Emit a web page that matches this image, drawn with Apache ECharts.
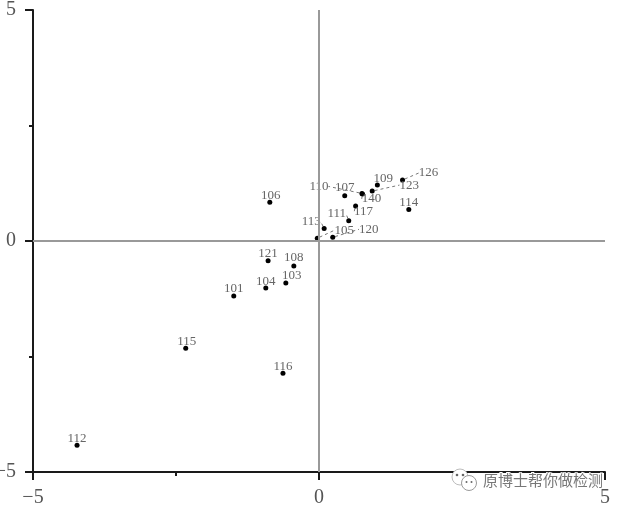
<!DOCTYPE html>
<html><head><meta charset="utf-8">
<style>html,body{margin:0;padding:0;background:#fff}#c{width:622px;height:507px}</style>
<script src="https://cdn.jsdelivr.net/npm/echarts@6/dist/echarts.min.js"></script>
</head><body><div id="c"></div>
<script>
const sampleNames = ['106','121','108','103','104','101','115','116','112','107','110','140','123','109','126','114','117','111','113','105','120'];
const xValues = [-0.86,-0.89,-0.44,-0.58,-0.93,-1.49,-2.33,-0.63,-4.23,0.45,0.75,0.76,0.93,1.02,1.46,1.57,0.64,0.52,0.09,-0.03,0.24];
const yValues = [0.84,-0.43,-0.54,-0.91,-1.02,-1.19,-2.32,-2.86,-4.42,0.98,1.03,1.02,1.08,1.21,1.32,0.68,0.76,0.44,0.27,0.06,0.08];
const xTickLabels = {'-5':'\u22125','0':'0','5':'5'};
const yTickLabels = {'-5':'\u22125','0':'0','5':'5'};

// label placement, pixels from each point (layout only)
const labelShift = {
  '106':[1,-7],'121':[0,-7],'108':[0,-8],'103':[6,-7],'104':[0,-7],'101':[0,-7],
  '115':[1,-7],'116':[0,-7],'112':[0,-7],'107':[0,-8],'110':[-43,-7],'140':[9,5],
  '123':[37,-6],'109':[6,-7],'126':[26,-7],'114':[0,-7],'117':[8,6],'111':[-12,-7],
  '113':[-13,-7],'105':[27,-8],'120':[36,-8]
};
const withLeader = ['110','140','123','126','117','111','113','105','120'];

const points = sampleNames.map((n,i)=>({
  name:n, value:[xValues[i],yValues[i]],
  labelLine:{show:withLeader.includes(n)}
}));

const chart = echarts.init(document.getElementById('c'),null,{renderer:'canvas'});
function axis(labels,pos){return {
  type:'value',position:pos,min:-5,max:5,interval:5,
  axisLine:{show:true,onZero:false,lineStyle:{color:'#1a1a1a',width:2}},
  axisTick:{show:true,length:8,lineStyle:{color:'#1a1a1a',width:2}},
  minorTick:{show:true,splitNumber:2,length:4,lineStyle:{color:'#1a1a1a',width:2}},
  splitLine:{show:false},minorSplitLine:{show:false},
  axisLabel:{fontFamily:'Liberation Serif',fontSize:20,color:'#555',margin:pos==='left'?17:16,
    formatter:v=>labels[String(v)]||''}
};}
chart.setOption({
  animation:false,
  grid:{left:33,right:17,top:10,bottom:35,outerBoundsMode:'none'},
  xAxis:axis(xTickLabels,'bottom'),
  yAxis:axis(yTickLabels,'left'),
  series:[{
    type:'scatter',data:points,symbolSize:5,
    itemStyle:{color:'#000',opacity:1},
    label:{show:true,position:'inside',formatter:'{b}',fontFamily:'Liberation Serif',fontSize:13,color:'#666'},
    labelLine:{show:false,lineStyle:{color:'#777',width:1,type:[3,3]}},
    labelLayout:p=>{const s=labelShift[sampleNames[p.dataIndex]];return {dx:s[0],dy:s[1]};},
    markLine:{silent:true,symbol:'none',animation:false,label:{show:false},
      lineStyle:{color:'#999',width:2,type:'solid'},
      data:[{xAxis:0},{yAxis:0}]}
  }],
  graphic:[
    {type:'circle',z:100,shape:{cx:460,cy:477,r:8},style:{fill:'#fff',stroke:'#bbb',lineWidth:1}},
    {type:'circle',z:101,shape:{cx:457,cy:475,r:1.3},style:{fill:'#666'}},
    {type:'circle',z:101,shape:{cx:463,cy:475,r:1.3},style:{fill:'#666'}},
    {type:'circle',z:102,shape:{cx:469,cy:483,r:7.5},style:{fill:'#fff',stroke:'#999',lineWidth:1}},
    {type:'circle',z:103,shape:{cx:466.5,cy:482,r:1},style:{fill:'#666'}},
    {type:'circle',z:103,shape:{cx:471.5,cy:482,r:1},style:{fill:'#666'}},
    {type:'text',z:104,x:483,y:480,style:{text:'\u539f\u535a\u58eb\u5e2e\u4f60\u505a\u68c0\u6d4b',
      font:'15px "Noto Sans CJK SC"',fill:'#777',stroke:'#fff',lineWidth:2,textVerticalAlign:'middle'}}
  ]
});
</script></body></html>
